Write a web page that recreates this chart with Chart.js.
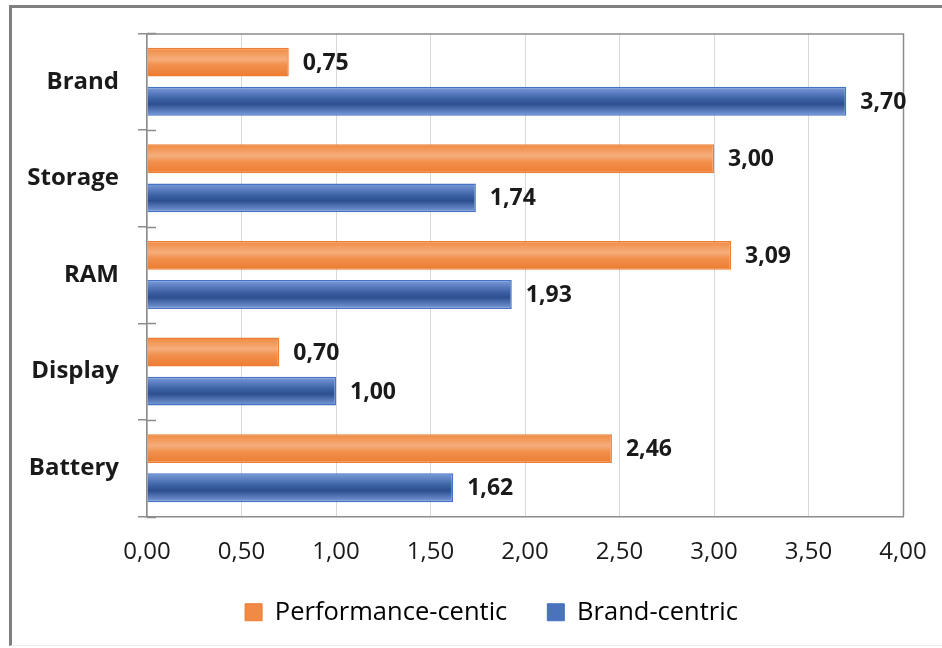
<!DOCTYPE html>
<html>
<head>
<meta charset="utf-8">
<script src="https://cdn.jsdelivr.net/npm/chart.js@4/dist/chart.umd.min.js"></script>
<style>
  html, body { margin: 0; padding: 0; background: #fff; }
  #wrap { position: relative; width: 942px; height: 648px; }
  #frame {
    position: absolute; left: 9px; top: 5px; right: -3px; bottom: 2px;
    border-top: 3px solid #7f7f7f; border-left: 3px solid #7f7f7f;
    border-bottom: 1px solid #ececec;
  }
  canvas { position: absolute; left: 0; top: 0; }
</style>
</head>
<body>
<div id="wrap">
  <div id="frame"></div>
  <canvas id="chart" width="942" height="648"></canvas>
</div>
<script>
// Criteria, top to bottom
const criteria = ["Brand", "Storage", "RAM", "Display", "Battery"];
const performanceCentric = [0.75, 3.00, 3.09, 0.70, 2.46];
const brandCentric = [3.70, 1.74, 1.93, 1.00, 1.62];
const seriesNames = ["Performance-centic", "Brand-centric"];
const xTicks = [0, 0.5, 1, 1.5, 2, 2.5, 3, 3.5, 4];

const fmt = v => v.toFixed(2).replace(".", ",");

// Excel-like shaded fills, built per bar from its own top/bottom
const shades = [
  ["#f0893f", "#f6ad7b", "#f2904d", "#ec7b2f"],
  ["#7d9ddb", "#3f63a8", "#2d4f90", "#7d9ddb"]
];
const shadedBars = {
  id: "shadedBars",
  beforeDatasetsDraw(chart) {
    const ctx = chart.ctx;
    chart.data.datasets.forEach((ds, di) => {
      const meta = chart.getDatasetMeta(di);
      meta.data.forEach(el => {
        const top = el.y - el.height / 2, bot = el.y + el.height / 2;
        const g = ctx.createLinearGradient(0, top, 0, bot);
        const s = shades[di];
        g.addColorStop(0, s[0]);
        g.addColorStop(0.4, s[1]);
        g.addColorStop(0.6, s[2]);
        g.addColorStop(1, s[3]);
        el.options.backgroundColor = g;
      });
    });
  }
};

// Plot frame and the crossing tick marks between categories
const plotFrame = {
  id: "plotFrame",
  beforeDatasetsDraw(chart) {
    const { ctx, chartArea: a } = chart;
    ctx.save();
    ctx.strokeStyle = "#8c8c8c";
    ctx.lineWidth = 1.5;
    ctx.beginPath();
    ctx.moveTo(a.left, a.top + 0.5);
    ctx.lineTo(a.right + 0.5, a.top + 0.5);
    ctx.lineTo(a.right + 0.5, a.bottom);
    ctx.stroke();
    const step = (a.bottom - a.top) / criteria.length;
    ctx.beginPath();
    for (let i = 0; i <= criteria.length; i++) {
      const y = Math.round(a.top + i * step) + 0.5;
      ctx.moveTo(a.left, y);
      ctx.lineTo(a.left + 9, y);
    }
    ctx.stroke();
    ctx.restore();
  }
};

// Value labels at the end of each bar
const valueLabels = {
  id: "valueLabels",
  afterDatasetsDraw(chart) {
    const ctx = chart.ctx;
    ctx.save();
    ctx.font = "bold 23px 'Open Sans'";
    ctx.fillStyle = "#1a1a1a";
    ctx.textBaseline = "middle";
    chart.data.datasets.forEach((ds, di) => {
      chart.getDatasetMeta(di).data.forEach((el, i) => {
        ctx.fillText(fmt(ds.data[i]), el.x + 14, el.y + 1);
      });
    });
    ctx.restore();
  }
};

// Nudge the legend under the middle of the plot
const legendShift = {
  id: "legendShift",
  afterLayout(chart) {
    const lg = chart.legend;
    lg.left += 40; lg.right += 40;
    lg.top -= 9; lg.bottom -= 9;
  }
};

new Chart(document.getElementById("chart"), {
  type: "bar",
  data: {
    labels: criteria,
    datasets: [
      {
        label: seriesNames[0],
        data: performanceCentric,
        backgroundColor: () => "#ED7D31",
        borderColor: "#ed7d31",
        borderWidth: 1.5,
        categoryPercentage: 0.81,
        barPercentage: 0.74
      },
      {
        label: seriesNames[1],
        data: brandCentric,
        backgroundColor: () => "#4472C4",
        borderColor: "#4472c4",
        borderWidth: 1.5,
        categoryPercentage: 0.81,
        barPercentage: 0.74
      }
    ]
  },
  options: {
    indexAxis: "y",
    responsive: false,
    animation: false,
    layout: { padding: { top: 32, right: 39, left: 0, bottom: 4 } },
    scales: {
      x: {
        min: 0,
        max: 4,
        afterBuildTicks: s => { s.ticks = xTicks.map(v => ({ value: v })); },
        ticks: {
          callback: v => fmt(v),
          color: "#1a1a1a",
          font: { family: "'Open Sans'", size: 24 },
          padding: 21,
          maxRotation: 0
        },
        grid: { color: "#d9d9d9", lineWidth: 1, drawTicks: false },
        border: { color: "#8c8c8c", width: 1.5 },
        afterFit: s => { s.height = 52; s.paddingLeft = 0; s.paddingRight = 0; }
      },
      y: {
        ticks: {
          color: "#1a1a1a",
          font: { family: "'Open Sans'", size: 24, weight: "bold" },
          padding: 19
        },
        grid: {
          offset: true,
          drawOnChartArea: false,
          drawTicks: true,
          tickLength: 9,
          color: "#8c8c8c",
          lineWidth: 1.5
        },
        border: { color: "#8c8c8c", width: 1.5 },
        afterFit: s => { s.width = 147; }
      }
    },
    plugins: {
      legend: {
        position: "bottom",
        labels: {
          boxWidth: 17,
          boxHeight: 17,
          padding: 40,
          color: "#1a1a1a",
          font: { family: "'Open Sans'", size: 25.5 },
          generateLabels: chart => chart.data.datasets.map((ds, i) => ({
            text: ds.label,
            fillStyle: i === 0 ? "#f08a45" : "#4a72bd",
            strokeStyle: i === 0 ? "#ed7d31" : "#4472c4",
            lineWidth: 1,
            datasetIndex: i
          }))
        }
      },
      tooltip: { enabled: false }
    }
  },
  plugins: [shadedBars, plotFrame, valueLabels, legendShift]
});
</script>
</body>
</html>
